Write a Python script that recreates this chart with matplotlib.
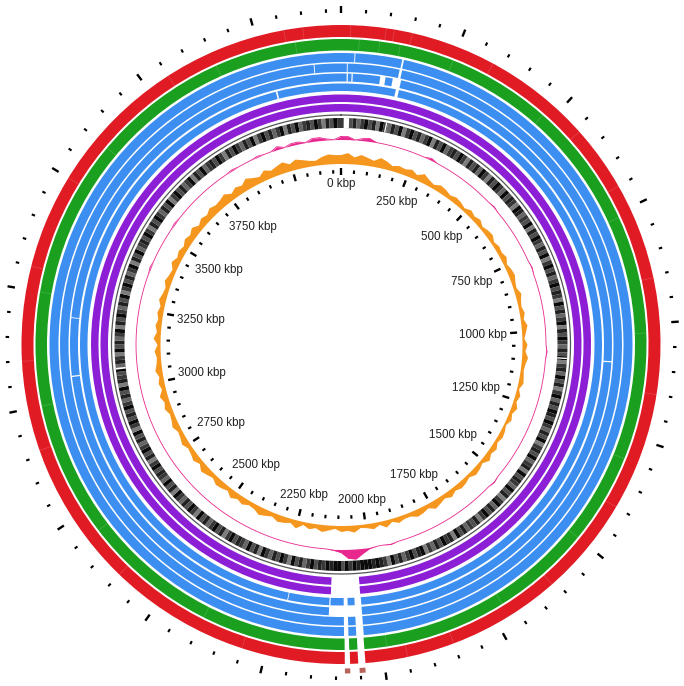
import numpy as np
import matplotlib
matplotlib.use('Agg')
import matplotlib.pyplot as plt

genome_kbp = 4180

# gaps (kbp) in each BLAST ring, drawn outer -> inner
red_gaps = [(2039, 2054), (2071, 2082)]
green_gaps = [(2039, 2054), (2072, 2082)]
blue1_gaps = [(31, 33), (141, 145), (2038, 2055), (2073, 2083)]
blue2_gaps = [(4115, 4117), (14, 16), (140, 146), (2038, 2055), (2073, 2083)]
blue3_gaps = [(14, 17), (26, 29), (97, 110), (128, 149), (1086, 1089),
              (2038, 2120), (3055, 3058), (3200, 3202)]
blue4_gaps = [(4012, 4016), (141, 149), (2038, 2055), (2073, 2083),
              (2117, 2120), (2226, 2228)]
purple1_gaps = [(2039, 2117)]
purple2_gaps = [(2039, 2117)]

# faint low-identity stripes (kbp) in the red and green rings
red_light = [4060, 4100, 20, 95, 112, 150, 330, 560, 700, 905, 1150, 1400,
             1610, 1850, 1950, 2300, 2600, 2910, 3100, 3300, 3500, 3800]
green_light = [4080, 40, 85, 130, 250, 480, 760, 1020, 1300, 1500, 1720,
               1990, 2400, 2700, 3000, 3250, 3600, 3900]

# small features on the outermost track
extra_feats = [(2040, 2052), (2071, 2082)]

# gene (CDS) track: shade per 1 degree bin, 0 = empty .. 9 = dense
gene_shade = ("796857968497586947968579486957869748"
              "685974869759687498576948697586947968"
              "579687496857948697586947859684795869"
              "869758694786957849687596847958697486"
              "758694879685749869758694789899989796"
              "998978697586947968579486957869748697"
              "586947968579486957869748697586947968"
              "697586948769587496857948697586947968"
              "579486957869748697586947968579486957"
              "869748697586947968579486957869748697")
gene_gaps = [(8, 24), (133, 137), (1084, 1088), (3061, 3066)]

# GC skew (pink), 2 degree bins, height in px
skew = [3, 3, 0, 2, 3, 0, 0, 0, 0, 0,
        0, 0, 0, 2, 0, 0, 0, 0, 0, 0,
        0, 0, 0, 0, 1, 0, 0, 0, 0, 0,
        0, 0, 0, 0, 1, 0, 0, 0, 0, 0,
        0, 0, 0, 0, 0, 0, 1, 0, 0, 0,
        0, 0, 0, 0, 0, 0, 0, 0, 0, 0,
        0, 0, 0, 0, 0, 0, 1, 0, 0, 0,
        0, 0, 0, 0, 0, 0, 0, 0, 0, 0,
        0, 0, 0, 1, 0, 0, 1, 5, 10, 9,
        3, 1, 0, 0, 0, 0, 0, 0, 0, 0,
        0, 0, 0, 0, 0, 0, 0, 0, 0, 0,
        0, 0, 0, 0, 0, 0, 0, 0, 0, 0,
        0, 0, 0, 0, 0, 0, 0, 0, 0, 0,
        0, 0, 0, 0, 0, 0, 0, 0, 0, 0,
        0, 0, 0, 0, 0, 0, 1, 0, 0, 0,
        0, 0, 0, 1, 0, 0, 0, 0, 0, 0,
        0, 0, 0, 0, 1, 0, 0, 0, 1, 0,
        0, 3, 0, 2, 2, 0, 3, 3, 1, 0]

# GC content (orange), 2 degree bins, height in px
gc = [9, 11, 7, 10, 8, 6, 10, 8, 5, 7,
      6, 8, 5, 9, 6, 4, 7, 6, 4, 6,
      5, 3, 6, 4, 6, 3, 5, 6, 3, 5,
      4, 6, 3, 5, 6, 4, 3, 6, 4, 3,
      5, 3, 6, 4, 2, 5, 3, 6, 4, 3,
      4, 5, 2, 5, 3, 6, 3, 5, 2, 4,
      5, 3, 6, 4, 7, 3, 5, 6, 3, 5,
      6, 4, 7, 4, 6, 8, 4, 6, 7, 4,
      4, 6, 3, 7, 3, 6, 4, 3, 7, 5,
      6, 3, 5, 7, 4, 6, 3, 8, 4, 6,
      7, 4, 6, 8, 5, 4, 7, 5, 8, 4,
      6, 7, 4, 6, 8, 4, 7, 5, 4, 7,
      5, 4, 7, 5, 4, 7, 5, 8, 4, 6,
      4, 7, 5, 4, 6, 3, 7, 4, 6, 4,
      6, 4, 7, 5, 4, 7, 5, 4, 8, 5,
      7, 5, 8, 6, 9, 5, 8, 6, 9, 7,
      8, 10, 6, 9, 7, 11, 8, 6, 10, 7,
      9, 11, 7, 10, 8, 6, 5, 8, 10, 9]

label_kbp = [0, 250, 500, 750, 1000, 1250, 1500, 1750, 2000,
             2250, 2500, 2750, 3000, 3250, 3500, 3750]


def th(k):
    return np.deg2rad(np.asarray(k) / genome_kbp * 360.0)


def segments(gaps):
    segs = []
    pos = 0
    for a, b in sorted(gaps):
        if a > pos:
            segs.append((pos, a))
        pos = max(pos, b)
    if pos < genome_kbp:
        segs.append((pos, genome_kbp))
    return segs


fig = plt.figure(figsize=(6.84, 6.86), dpi=100)
R = 341
ax = fig.add_axes([(341 - R) / 684, (686 - 344.5 - R) / 686, 2 * R / 684, 2 * R / 686],
                  projection='polar')
ax.set_theta_zero_location('N')
ax.set_theta_direction(-1)
ax.set_ylim(0, R)
ax.set_axis_off()

rings = [
    (red_gaps, '#e01b24', 307.5, 319.5),
    (green_gaps, '#1aa01e', 294, 305.5),
    (blue1_gaps, '#3c8ff0', 282.5, 291.5),
    (blue2_gaps, '#3c8ff0', 272.5, 281),
    (blue3_gaps, '#3c8ff0', 263, 271),
    (blue4_gaps, '#3c8ff0', 253.5, 261),
    (purple1_gaps, '#8c1ed6', 242.5, 250),
    (purple2_gaps, '#8c1ed6', 233, 240.5),
]
for gaps, col, r0, r1 in rings:
    for a, b in segments(gaps):
        ax.bar(th(a), r1 - r0, width=th(b) - th(a), bottom=r0, align='edge',
               color=col, linewidth=0)

for k in red_light:
    ax.plot([th(k), th(k)], [307.5, 319.5], color='white', lw=0.5, alpha=0.18)
for k in green_light:
    ax.plot([th(k), th(k)], [294, 305.5], color='white', lw=0.5, alpha=0.18)

for a, b in extra_feats:
    ax.bar(th(a), 5, width=th(b) - th(a), bottom=324, align='edge',
           color='#b8645c', linewidth=0)

# gene track
nb = len(gene_shade)
bw = 2 * np.pi / nb
for i, d in enumerate(gene_shade):
    g = 0.85 - int(d) * 0.09
    ax.bar(i * bw, 10, width=bw, bottom=216.5, align='edge',
           color=(g, g, g), linewidth=0)
for a, b in gene_gaps:
    ax.bar(th(a), 10, width=th(b) - th(a), bottom=216.5, align='edge',
           color='white', linewidth=0)

full = np.linspace(0, 2 * np.pi, 721)
ax.plot(full, np.full_like(full, 229.5), color='#555555', lw=0.9)

# GC skew
ang = np.deg2rad(np.arange(len(skew) + 1) * 360.0 / len(skew))
sk = np.array(skew + skew[:1], dtype=float)
ax.fill_between(ang, 205, 205 + sk, color='#e8288f', lw=0)
ax.plot(ang, 205 + sk, color='#e8288f', lw=0.6)

# GC content
ang = np.deg2rad(np.arange(len(gc) + 1) * 360.0 / len(gc))
g2 = np.array(gc + gc[:1], dtype=float)
ax.fill_between(ang, 181, 181 + g2, color='#f5961e', lw=0)

# tick marks
for k in np.arange(0, genome_kbp, 50):
    t = th(k)
    if k % 250 == 0:
        ax.plot([t, t], [169.5, 176.5], color='black', lw=1.7, solid_capstyle='butt')
        ax.plot([t, t], [331, 338.5], color='black', lw=1.7, solid_capstyle='butt')
    else:
        ax.plot([t, t], [171, 174.5], color='black', lw=1.5, solid_capstyle='butt')
        ax.plot([t, t], [332, 335.5], color='black', lw=1.5, solid_capstyle='butt')

for k in label_kbp:
    s = '%d kbp' % k
    t = th(k)
    w = 6.0 * len(s)
    rc = 167 - (w / 2 * abs(np.sin(t)) + 7 * abs(np.cos(t)))
    ax.text(t, rc, s, ha='center', va='center', fontsize=8.4,
            family='Liberation Sans', color='#222222')

fig.savefig('out.png', dpi=100)
